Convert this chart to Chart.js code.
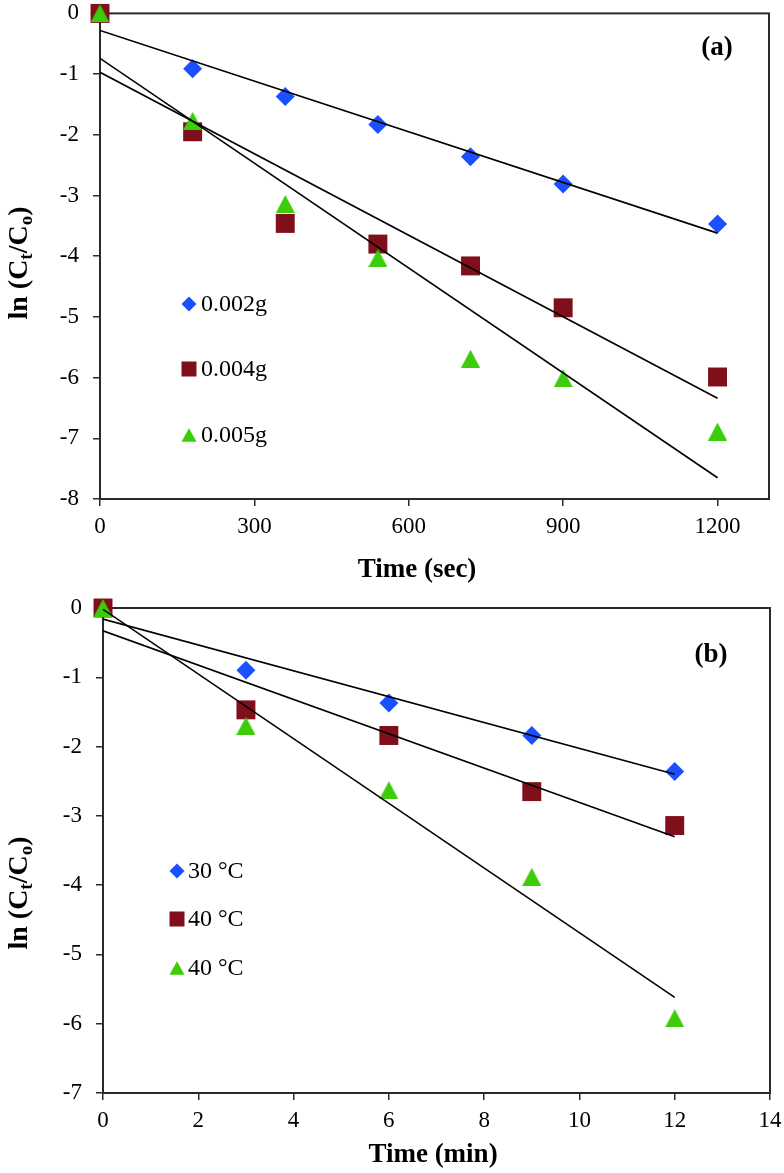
<!DOCTYPE html>
<html>
<head>
<meta charset="utf-8">
<script src="https://cdn.jsdelivr.net/npm/chart.js"></script>
<style>
  body { margin: 0; background: #fff; }
  .panel { position: absolute; left: 0; width: 784px; }
</style>
</head>
<body>
<div class="panel" style="top:0;height:590px"><canvas id="chartA" width="784" height="590"></canvas></div>
<div class="panel" style="top:590px;height:583px"><canvas id="chartB" width="784" height="583"></canvas></div>
<script>
// (a) effect of catalyst dose
const timeSec = [0, 180, 360, 540, 720, 900, 1200];
const dose002g = [0, -0.91, -1.37, -1.83, -2.36, -2.81, -3.47];
const dose004g = [0, -1.95, -3.46, -3.80, -4.16, -4.85, -5.99];
const dose005g = [0, -1.77, -3.14, -4.03, -5.69, -6.01, -6.89];
const fitSecX = [0, 1200];
const fit002g = [-0.28, -3.62];
const fit004g = [-0.97, -6.34];
const fit005g = [-0.74, -7.65];
const doseLabels = ['0.002g', '0.004g', '0.005g'];
const secTicks = [0, 300, 600, 900, 1200];
const lnTicksA = [0, -1, -2, -3, -4, -5, -6, -7, -8];

// (b) effect of temperature
const timeMin = [0, 3, 6, 9, 12];
const temp30 = [0, -0.90, -1.37, -1.84, -2.36];
const temp40 = [0, -1.47, -1.84, -2.65, -3.14];
const temp40b = [0, -1.70, -2.63, -3.88, -5.92];
const fitMinX = [0, 12];
const fit30 = [-0.16, -2.40];
const fit40 = [-0.33, -3.30];
const fit40b = [-0.02, -5.62];
const tempLabels = ['30 °C', '40 °C', '40 °C'];
const minTicks = [0, 2, 4, 6, 8, 10, 12, 14];
const lnTicksB = [0, -1, -2, -3, -4, -5, -6, -7];

const SERIF = "'Liberation Serif', 'Times New Roman', serif";
const BLUE = '#1c4fff', RED = '#7f0f1a', GREEN = '#3ccc0a', AXIS = '#2a2a2a';

const pts = (xs, ys) => xs.map((x, i) => ({ x: x, y: ys[i] }));

// triangle centred on its bounding box, like the spreadsheet markers
function triangleImg(w, h, color) {
  const c = document.createElement('canvas');
  c.width = w; c.height = h;
  const g = c.getContext('2d');
  g.fillStyle = color;
  g.beginPath();
  g.moveTo(w / 2, 0); g.lineTo(w, h); g.lineTo(0, h);
  g.closePath(); g.fill();
  return c;
}

function drawMarker(ctx, kind, x, y, s, color) {
  ctx.fillStyle = color;
  ctx.beginPath();
  if (kind === 'diamond') {
    ctx.moveTo(x, y - s / 2); ctx.lineTo(x + s / 2, y); ctx.lineTo(x, y + s / 2); ctx.lineTo(x - s / 2, y);
  } else if (kind === 'square') {
    ctx.rect(x - s / 2, y - s / 2, s, s);
  } else {
    ctx.moveTo(x, y - s * 0.45); ctx.lineTo(x + s / 2, y + s * 0.45); ctx.lineTo(x - s / 2, y + s * 0.45);
  }
  ctx.closePath();
  ctx.fill();
}

// box round the plot area
const framePlugin = {
  id: 'frame',
  beforeDatasetsDraw(chart) {
    const a = chart.chartArea, ctx = chart.ctx;
    ctx.save();
    ctx.strokeStyle = AXIS;
    ctx.lineWidth = 2;
    ctx.strokeRect(a.left, a.top, a.right - a.left, a.bottom - a.top);
    ctx.restore();
  }
};

// legend inside the plot, axis titles and panel tag
const textPlugin = {
  id: 'texts',
  afterDatasetsDraw(chart, args, o) {
    const ctx = chart.ctx;
    ctx.save();
    // legend
    const kinds = ['diamond', 'square', 'triangle'];
    const colors = [BLUE, RED, GREEN];
    ctx.font = '24px ' + SERIF;
    ctx.textBaseline = 'middle';
    ctx.textAlign = 'left';
    o.legendRows.forEach((y, i) => {
      drawMarker(ctx, kinds[i], o.legendX, y, 15, colors[i]);
      ctx.fillStyle = '#000';
      ctx.fillText(chart.data.datasets[i].label, o.legendTextX, y + 1);
    });
    // panel tag
    ctx.font = 'bold 27px ' + SERIF;
    ctx.textAlign = 'center';
    ctx.fillText(o.tag, o.tagX, o.tagY);
    // x title
    ctx.fillText(o.xTitle, o.xTitleX, o.xTitleY);
    // y title with subscripts, rotated
    const parts = [['ln (C', 0], ['t', 1], ['/C', 0], ['o', 1], [')', 0]];
    const big = 'bold 28px ' + SERIF, small = 'bold 19px ' + SERIF;
    let total = 0;
    parts.forEach(p => { ctx.font = p[1] ? small : big; total += ctx.measureText(p[0]).width; });
    ctx.translate(o.yTitleX, o.yTitleY);
    ctx.rotate(-Math.PI / 2);
    ctx.textAlign = 'left';
    ctx.textBaseline = 'alphabetic';
    let cx = -total / 2;
    parts.forEach(p => {
      ctx.font = p[1] ? small : big;
      ctx.fillText(p[0], cx, p[1] ? 5 : 0);
      cx += ctx.measureText(p[0]).width;
    });
    ctx.restore();
  }
};

function makeChart(id, d) {
  const styles = ['rectRot', 'rect', triangleImg(19, 18, GREEN)];
  const radii = [9.5, 13.4, 10];
  const colors = [BLUE, RED, GREEN];
  const datasets = d.series.map((ys, i) => ({
    label: d.labels[i],
    data: pts(d.xs, ys),
    showLine: false,
    pointStyle: styles[i],
    pointRadius: radii[i],
    pointHoverRadius: radii[i],
    backgroundColor: colors[i],
    borderColor: colors[i],
    pointBorderWidth: 0,
    clip: false,
    order: 3 - i
  }));
  d.fits.forEach(ys => datasets.push({
    label: 'fit',
    data: pts(d.fitX, ys),
    showLine: true,
    pointRadius: 0,
    borderColor: '#000',
    borderWidth: 1.6,
    fill: false,
    order: 0
  }));

  const tickFont = { family: SERIF, size: 23 };
  return new Chart(document.getElementById(id), {
    type: 'scatter',
    data: { datasets: datasets },
    options: {
      responsive: false,
      animation: false,
      layout: { padding: d.pad },
      plugins: {
        legend: { display: false },
        tooltip: { enabled: false },
        texts: d.texts
      },
      scales: {
        x: {
          type: 'linear',
          min: d.xMin, max: d.xMax,
          afterBuildTicks: s => { s.ticks = d.xTicks.map(v => ({ value: v })); },
          afterFit: s => { s.height = d.xH; s.paddingLeft = 0; s.paddingRight = 0; },
          ticks: { font: tickFont, color: '#000', padding: 7, maxRotation: 0, callback: v => String(v) },
          grid: { drawOnChartArea: false, drawTicks: true, tickLength: 7, color: AXIS, lineWidth: 1.5 },
          border: { display: true, color: AXIS, width: 2 }
        },
        y: {
          type: 'linear',
          min: d.yMin, max: 0,
          afterBuildTicks: s => { s.ticks = d.yTicks.map(v => ({ value: v })); },
          afterFit: s => { s.width = d.yW; s.paddingTop = 0; s.paddingBottom = 0; },
          ticks: { font: tickFont, color: '#000', padding: 14, callback: v => String(v) },
          grid: { drawOnChartArea: false, drawTicks: true, tickLength: 7, color: AXIS, lineWidth: 1.5 },
          border: { display: true, color: AXIS, width: 2 }
        }
      }
    },
    plugins: [framePlugin, textPlugin]
  });
}

makeChart('chartA', {
  xs: timeSec, series: [dose002g, dose004g, dose005g], labels: doseLabels,
  fitX: fitSecX, fits: [fit002g, fit004g, fit005g],
  xMin: 0, xMax: 1300, xTicks: secTicks, yMin: -8, yTicks: lnTicksA,
  pad: { left: 0, right: 15, top: 11, bottom: 0 }, yW: 100, xH: 91,
  texts: {
    legendX: 189, legendTextX: 201, legendRows: [304, 369, 435],
    tag: '(a)', tagX: 717, tagY: 48,
    xTitle: 'Time (sec)', xTitleX: 417, xTitleY: 570,
    yTitleX: 27, yTitleY: 263
  }
});

makeChart('chartB', {
  xs: timeMin, series: [temp30, temp40, temp40b], labels: tempLabels,
  fitX: fitMinX, fits: [fit30, fit40, fit40b],
  xMin: 0, xMax: 14, xTicks: minTicks, yMin: -7, yTicks: lnTicksB,
  pad: { left: 0, right: 14, top: 18, bottom: 0 }, yW: 103, xH: 80,
  texts: {
    legendX: 177, legendTextX: 188, legendRows: [281, 329, 378],
    tag: '(b)', tagX: 711, tagY: 65,
    xTitle: 'Time (min)', xTitleX: 433, xTitleY: 565,
    yTitleX: 27, yTitleY: 303
  }
});
</script>
</body>
</html>
